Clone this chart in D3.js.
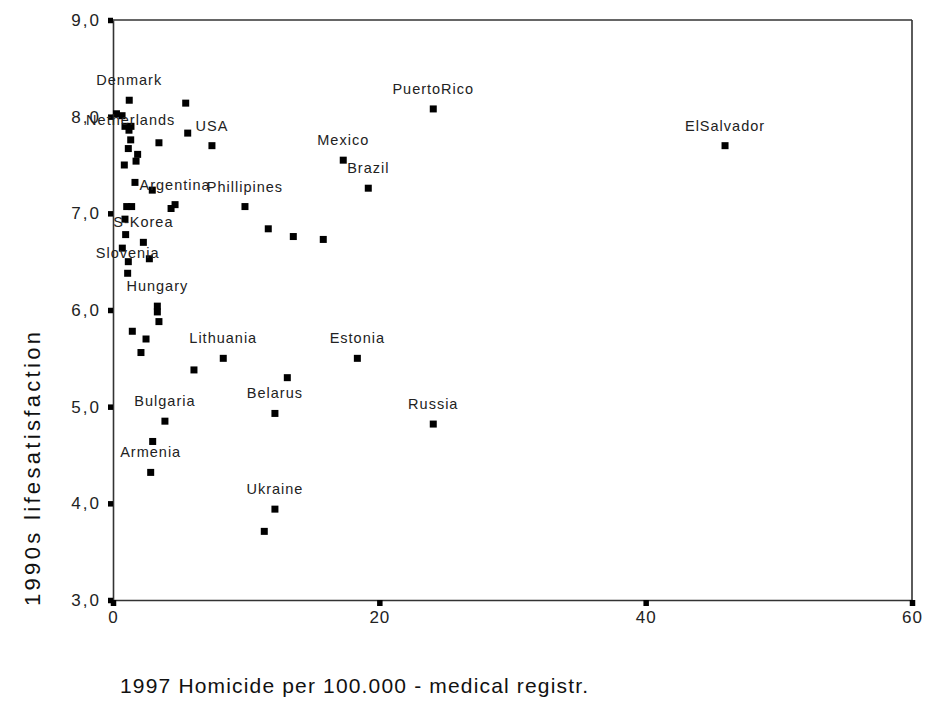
<!DOCTYPE html>
<html>
<head>
<meta charset="utf-8">
<script src="https://cdn.jsdelivr.net/npm/d3@7"></script>
<style>
  html, body { margin: 0; padding: 0; background: #fff; }
  svg { display: block; font-family: Arial, "Liberation Sans", sans-serif; }
</style>
</head>
<body>
<svg id="chart" width="930" height="704"></svg>
<script>
// ---- data ----
const homicide = [
  1.22, 5.46, 0.26, 0.68, 0.90, 1.35, 1.20, 5.61, 1.33, 3.45,
  7.43, 1.15, 1.85, 1.73, 0.85, 1.65, 2.95, 4.66, 4.36, 1.03,
  1.40, 9.91, 0.90, 0.95, 2.28, 0.70, 1.15, 2.73, 1.10, 11.66,
  13.54, 15.79, 3.33, 3.33, 3.45, 1.45, 2.48, 2.10, 6.08, 8.28,
  18.35, 13.09, 12.16, 24.05, 3.90, 2.98, 2.83, 12.16, 11.36, 24.05,
  17.29, 19.17, 45.96
];
const satisfaction = [
  8.17, 8.14, 8.03, 8.01, 7.90, 7.90, 7.86, 7.83, 7.76, 7.73,
  7.70, 7.67, 7.61, 7.54, 7.50, 7.32, 7.24, 7.09, 7.05, 7.07,
  7.07, 7.07, 6.94, 6.78, 6.70, 6.64, 6.50, 6.53, 6.38, 6.84,
  6.76, 6.73, 6.04, 5.98, 5.88, 5.78, 5.70, 5.56, 5.38, 5.50,
  5.50, 5.30, 4.93, 4.82, 4.85, 4.64, 4.32, 3.94, 3.71, 8.08,
  7.55, 7.26, 7.70
];
const countryLabels = [
  "Denmark", "", "", "", "", "", "", "", "Netherlands", "",
  "USA", "", "", "", "", "", "", "Argentina", "", "",
  "", "Phillipines", "", "", "S-Korea", "", "", "", "Slovenia", "",
  "", "", "Hungary", "", "", "", "", "", "", "Lithuania",
  "Estonia", "", "Belarus", "Russia", "Bulgaria", "", "Armenia", "Ukraine", "", "PuertoRico",
  "Mexico", "Brazil", "ElSalvador"
];
const xTicks = [0, 20, 40, 60];
const yTicks = [3, 4, 5, 6, 7, 8, 9];
const xTitle = "1997 Homicide per 100.000 - medical registr.";
const yTitle = "1990s lifesatisfaction";

const points = homicide.map((h, i) => ({ x: h, y: satisfaction[i], label: countryLabels[i] }));

// ---- layout ----
const svg = d3.select("#chart");
const x = d3.scaleLinear().domain([0, 60]).range([113, 912]);
const y = d3.scaleLinear().domain([3, 9]).range([600, 20]);
const ink = "#222";
const lineCol = "#333";

// frame (top & right)
svg.append("line")
  .attr("x1", x.range()[0]).attr("x2", x.range()[1])
  .attr("y1", y.range()[1]).attr("y2", y.range()[1])
  .attr("stroke", lineCol).attr("stroke-width", 1.6);
svg.append("line")
  .attr("x1", x.range()[1]).attr("x2", x.range()[1])
  .attr("y1", y.range()[1]).attr("y2", y.range()[0])
  .attr("stroke", lineCol).attr("stroke-width", 1.6);

// axes
const fmt = d => d3.format(".1f")(d).replace(".", ",");
const yAxis = svg.append("g")
  .attr("transform", `translate(${x.range()[0]},0)`)
  .call(d3.axisLeft(y).tickValues(yTicks).tickFormat(fmt).tickSize(5).tickPadding(7).tickSizeOuter(0));
const xAxis = svg.append("g")
  .attr("transform", `translate(0,${y.range()[0]})`)
  .call(d3.axisBottom(x).tickValues(xTicks).tickFormat(d3.format("d")).tickSize(6).tickPadding(5).tickSizeOuter(0));

[yAxis, xAxis].forEach(g => {
  g.select(".domain").attr("stroke", lineCol).attr("stroke-width", 1.6);
  g.selectAll(".tick line").attr("stroke", "#000").attr("stroke-width", 5.5);
  g.selectAll(".tick text")
    .attr("fill", ink)
    .style("font-size", "17px")
    .style("font-family", "Arial, 'Liberation Sans', sans-serif");
});
yAxis.selectAll(".tick text").style("letter-spacing", "2px");
xAxis.selectAll(".tick text").style("letter-spacing", "1px");

// points
svg.append("g").selectAll("rect")
  .data(points)
  .join("rect")
  .attr("x", d => x(d.x) - 3.5)
  .attr("y", d => y(d.y) - 3.5)
  .attr("width", 7)
  .attr("height", 7)
  .attr("fill", "#000");

// point labels
svg.append("g").selectAll("text")
  .data(points.filter(d => d.label))
  .join("text")
  .attr("x", d => x(d.x))
  .attr("y", d => y(d.y) - 15)
  .attr("text-anchor", "middle")
  .attr("fill", ink)
  .style("font-size", "14.5px")
  .style("letter-spacing", "1px")
  .text(d => d.label);

// axis titles
svg.append("text")
  .attr("x", 120)
  .attr("y", 693)
  .attr("fill", "#111")
  .style("font-size", "21px")
  .attr("textLength", 468)
  .attr("lengthAdjust", "spacing")
  .text(xTitle);

svg.append("text")
  .attr("transform", "translate(40,606) rotate(-90)")
  .attr("x", 0).attr("y", 0)
  .attr("fill", "#111")
  .style("font-size", "22px")
  .attr("textLength", 274)
  .attr("lengthAdjust", "spacing")
  .text(yTitle);
</script>
</body>
</html>
